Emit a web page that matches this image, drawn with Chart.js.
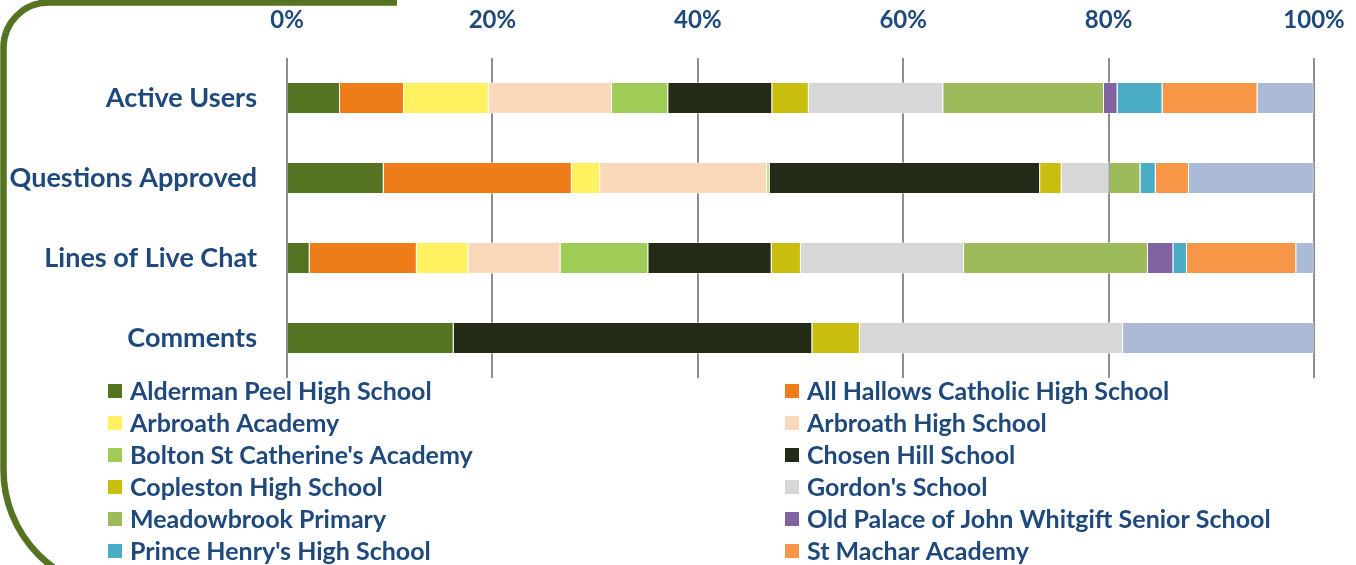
<!DOCTYPE html>
<html>
<head>
<meta charset="utf-8">
<script src="https://cdn.jsdelivr.net/npm/chart.js@4.4.0/dist/chart.umd.min.js"></script>
<style>
  html, body { margin: 0; padding: 0; background: #fff; overflow: hidden; }
  #wrap { width: 1356px; height: 565px; }
</style>
</head>
<body>
<div id="wrap"><canvas id="chart" width="1356" height="565"></canvas></div>
<script>
// categories (top to bottom)
const categories = ['Active Users', 'Questions Approved', 'Lines of Live Chat', 'Comments'];
const tickLabels = ['0%', '20%', '40%', '60%', '80%', '100%'];

// share of each category, in percent
const aldermanPeel     = [5.16, 9.42, 2.21, 16.23];
const allHallows       = [6.23, 18.31, 10.43, 0];
const arbroathAcademy  = [8.25, 2.76, 5.03, 0];
const arbroathHigh     = [12.01, 16.27, 8.96, 0];
const boltonStCath     = [5.47, 0.23, 8.55, 0];
const chosenHill       = [10.13, 26.34, 12.01, 34.92];
const copleston        = [3.56, 2.10, 2.85, 4.63];
const gordons          = [13.09, 4.67, 15.89, 25.63];
const meadowbrook      = [15.65, 3.00, 17.90, 0];
const oldPalace        = [1.32, 0, 2.48, 0];
const princeHenrys     = [4.38, 1.49, 1.32, 0];
const stMachar         = [9.25, 3.24, 10.64, 0];
const otherSchool      = [5.49, 12.16, 1.72, 18.59]; // legend entry cut off in the picture

const series = [
  ['Alderman Peel High School', aldermanPeel, '#557421'],
  ['All Hallows Catholic High School', allHallows, '#EE7D19'],
  ['Arbroath Academy', arbroathAcademy, '#FFF160'],
  ['Arbroath High School', arbroathHigh, '#FAD8BA'],
  ["Bolton St Catherine's Academy", boltonStCath, '#9ECC56'],
  ['Chosen Hill School', chosenHill, '#232A16'],
  ['Copleston High School', copleston, '#CABF0F'],
  ["Gordon's School", gordons, '#D7D7D7'],
  ['Meadowbrook Primary', meadowbrook, '#9CBB5A'],
  ['Old Palace of John Whitgift Senior School', oldPalace, '#8064A2'],
  ["Prince Henry's High School", princeHenrys, '#4BACC6'],
  ['St Machar Academy', stMachar, '#F79646'],
  ['Other', otherSchool, '#ABBAD7']
];

const textColor = '#1F497D';
const fontFamily = 'Lato, "Open Sans", sans-serif';

// green rounded frame behind the chart
const framePlugin = {
  id: 'frame',
  beforeDraw(chart) {
    const ctx = chart.ctx;
    ctx.save();
    ctx.strokeStyle = '#557421';
    ctx.lineWidth = 6.5;
    ctx.beginPath();
    ctx.moveTo(397, 2.5);
    ctx.arcTo(3.5, 2.5, 3.5, 300, 45);
    ctx.arcTo(3.5, 590, 400, 590, 120);
    ctx.lineTo(400, 590);
    ctx.stroke();
    ctx.restore();
  }
};

// two-column legend under the plot
const legendPlugin = {
  id: 'twoColLegend',
  afterDraw(chart) {
    const ctx = chart.ctx;
    ctx.save();
    ctx.font = 'bold 25px ' + fontFamily;
    ctx.textBaseline = 'middle';
    chart.data.datasets.forEach((ds, i) => {
      const col = i % 2;
      const row = Math.floor(i / 2);
      const x = col === 0 ? 108 : 785;
      const y = 391 + row * 32;
      ctx.fillStyle = ds.backgroundColor;
      ctx.fillRect(x, y - 7, 14, 14);
      ctx.fillStyle = textColor;
      ctx.fillText(ds.label, x + 22, y + 1);
    });
    ctx.restore();
  }
};

new Chart(document.getElementById('chart'), {
  type: 'bar',
  data: {
    labels: categories,
    datasets: series.map(([label, data, color]) => ({
      label: label,
      data: data,
      backgroundColor: color,
      borderColor: 'rgba(255,255,255,0.4)',
      borderWidth: 1,
      categoryPercentage: 0.4,
      barPercentage: 1
    }))
  },
  options: {
    indexAxis: 'y',
    responsive: false,
    animation: false,
    layout: { padding: { left: 0, right: 42, top: 0, bottom: 187 } },
    plugins: {
      legend: { display: false },
      tooltip: { enabled: false }
    },
    scales: {
      x: {
        position: 'top',
        stacked: true,
        min: 0,
        max: 100,
        afterFit(scale) {
          scale.height = 58;
          scale.paddingLeft = 0;
          scale.paddingRight = 0;
        },
        afterBuildTicks(scale) {
          scale.ticks = tickLabels.map((_, i) => ({ value: i * 20 }));
        },
        ticks: {
          padding: 23,
          maxRotation: 0,
          color: textColor,
          font: { family: fontFamily, size: 24, weight: 'bold' },
          callback: (v, i) => tickLabels[i]
        },
        grid: { color: '#8E8E8E', lineWidth: 2, drawTicks: false },
        border: { display: false }
      },
      y: {
        stacked: true,
        afterFit(scale) { scale.width = 287; },
        ticks: {
          padding: 22,
          color: textColor,
          font: { family: fontFamily, size: 27, weight: 'bold' }
        },
        grid: { display: false },
        border: { display: false }
      }
    }
  },
  plugins: [framePlugin, legendPlugin]
});
</script>
</body>
</html>
